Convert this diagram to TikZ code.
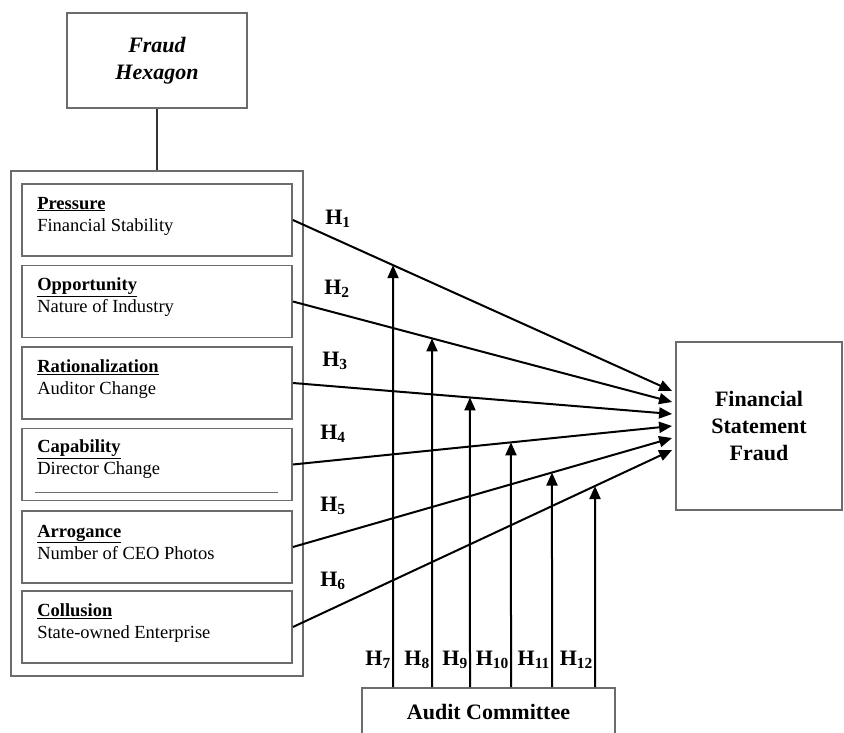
\documentclass[tikz,border=0pt]{standalone}
\usepackage{fontspec}
\setmainfont{Liberation Serif}
\usetikzlibrary{positioning, fit, arrows.meta}

\begin{document}
\begin{tikzpicture}[x=1pt, y=-1pt,
  box/.style={draw=gray!85!black, line width=1.8pt},
  factor/.style={box, minimum width=270pt, minimum height=72pt, inner sep=0pt},
  factortext/.style={align=left, inner sep=0pt, font=\fontsize{18.5}{22}\selectfont},
  bigtext/.style={align=center, font=\bfseries\fontsize{22}{27}\selectfont},
  hyp/.style={inner sep=1pt, font=\bfseries\fontsize{22}{24}\selectfont},
  link/.style={line width=2pt, -{Triangle[length=13pt,width=11pt]}}]

\useasboundingbox (0,0) rectangle (844,733);

% top box
\node[box, bigtext, font=\bfseries\itshape\fontsize{22}{27}\selectfont,
  minimum width=180pt, minimum height=95pt] (hexagon) at (157,60.5) {Fraud\\Hexagon};

% six elements
\node[factor] (pres) at (157,220) {};
\node[factor] (oppo) at (157,301.5) {};
\node[factor] (rati) at (157,383) {};
\node[factor] (capa) at (157,464.5) {};
\node[factor] (arro) at (157,547) {};
\node[factor] (coll) at (157,627) {};

\node[factortext, right=16pt of pres.west, yshift=4pt] (pres-t) {\textbf{\underline{Pressure}}\\Financial Stability};
\node[factortext, right=16pt of oppo.west, yshift=4pt] (oppo-t) {\textbf{\underline{Opportunity}}\\Nature of Industry};
\node[factortext, right=16pt of rati.west, yshift=4pt] (rati-t) {\textbf{\underline{Rationalization}}\\Auditor Change};
\node[factortext, right=16pt of capa.west, yshift=5pt] (capa-t) {\textbf{\underline{Capability}}\\Director Change};
\node[factortext, right=16pt of arro.west, yshift=5pt] (arro-t) {\textbf{\underline{Arrogance}}\\Number of CEO Photos};
\node[factortext, right=16pt of coll.west, yshift=4pt] (coll-t) {\textbf{\underline{Collusion}}\\State-owned Enterprise};

\draw[gray!85!black, line width=1.8pt] ([xshift=14pt, yshift=9pt]capa.south west) -- ([xshift=-15pt, yshift=9pt]capa.south east);

% group box
\node[box, fit=(pres)(coll), inner xsep=10pt, inner ysep=12pt] (group) {};
\draw[line width=2pt, black!80] (hexagon.south) -- (group.north);

% right and bottom boxes
\node[box, bigtext, minimum width=166pt, minimum height=168pt] (fsf) at (759,426) {Financial\\Statement\\Fraud};
\node[box, bigtext, minimum width=253pt, minimum height=48pt] (audit) at (488.5,712) {Audit Committee};

% arrow ends
\coordinate (t1) at ([xshift=-3pt, yshift=35pt]fsf.west);
\coordinate (t2) at ([xshift=-3pt, yshift=24pt]fsf.west);
\coordinate (t3) at ([xshift=-3pt, yshift=12pt]fsf.west);
\coordinate (t4) at ([xshift=-3pt, yshift=0pt]fsf.west);
\coordinate (t5) at ([xshift=-3pt, yshift=-12pt]fsf.west);
\coordinate (t6) at ([xshift=-3pt, yshift=-24pt]fsf.west);

\coordinate (s1) at (pres.east);
\coordinate (s2) at (oppo.east);
\coordinate (s3) at (rati.east);
\coordinate (s4) at (capa.east);
\coordinate (s5) at (arro.east);
\coordinate (s6) at (coll.east);

\draw[link] (s1) -- (t1);
\draw[link] (s2) -- (t2);
\draw[link] (s3) -- (t3);
\draw[link] (s4) -- (t4);
\draw[link] (s5) -- (t5);
\draw[link] (s6) -- (t6);

\node[hyp] (h1) at (338,219) {H\textsubscript{1}};
\node[hyp] (h2) at (337,289) {H\textsubscript{2}};
\node[hyp] (h3) at (335,361) {H\textsubscript{3}};
\node[hyp] (h4) at (333,434) {H\textsubscript{4}};
\node[hyp] (h5) at (333,506) {H\textsubscript{5}};
\node[hyp] (h6) at (333,581) {H\textsubscript{6}};

% moderating arrows
\coordinate (c7) at (393,0);
\coordinate (c8) at (432,0);
\coordinate (c9) at (470,0);
\coordinate (c10) at (511,0);
\coordinate (c11) at (552,0);
\coordinate (c12) at (595,0);

\coordinate (b7) at (audit.north -| c7);
\coordinate (b8) at (audit.north -| c8);
\coordinate (b9) at (audit.north -| c9);
\coordinate (b10) at (audit.north -| c10);
\coordinate (b11) at (audit.north -| c11);
\coordinate (b12) at (audit.north -| c12);

\coordinate (a7) at (intersection of s1--t1 and b7--c7);
\coordinate (a8) at (intersection of s2--t2 and b8--c8);
\coordinate (a9) at (intersection of s3--t3 and b9--c9);
\coordinate (a10) at (intersection of s4--t4 and b10--c10);
\coordinate (a11) at (intersection of s5--t5 and b11--c11);
\coordinate (a12) at (intersection of s6--t6 and b12--c12);

\draw[link] (b7) -- (a7);
\draw[link] (b8) -- (a8);
\draw[link] (b9) -- (a9);
\draw[link] (b10) -- (a10);
\draw[link] (b11) -- (a11);
\draw[link] (b12) -- (a12);

\node[hyp, above left=17pt and 1pt of b7] (h7) {H\textsubscript{7}};
\node[hyp, above left=17pt and 1pt of b8] (h8) {H\textsubscript{8}};
\node[hyp, above left=17pt and 1pt of b9] (h9) {H\textsubscript{9}};
\node[hyp, above left=17pt and 1pt of b10] (h10) {H\textsubscript{10}};
\node[hyp, above left=17pt and 1pt of b11] (h11) {H\textsubscript{11}};
\node[hyp, above left=17pt and 1pt of b12] (h12) {H\textsubscript{12}};
\end{tikzpicture}
\end{document}
